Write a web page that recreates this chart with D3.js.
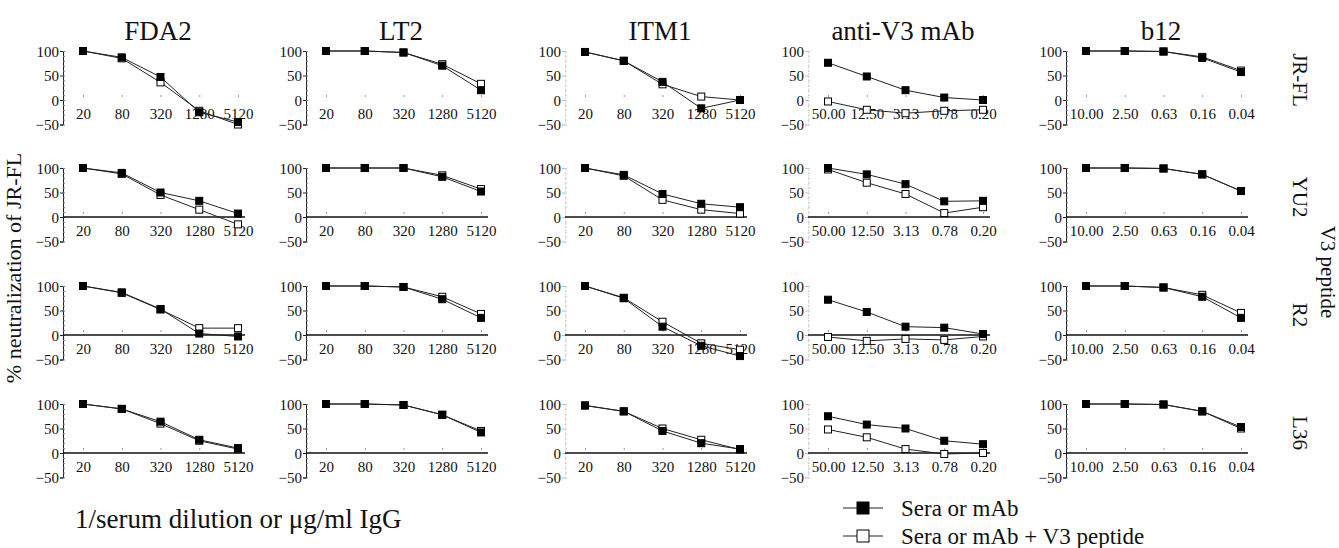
<!DOCTYPE html>
<head>
  <meta charset="utf-8">
  <style>
  body {
    margin: 0;
    background: #fff;
  }

  svg {
    display: block;
  }

  .line {
    fill: none;
    stroke: #222;
    stroke-width: 1px;
  }
</style>
</head>
<svg class="chart" width="1339" height="548"></svg>

<script src="https://cdn.jsdelivr.net/npm/d3@7"></script>
<script>
// x categories
var dilutions = ["20", "80", "320", "1280", "5120"];
var mabConc = ["50.00", "12.50", "3.13", "0.78", "0.20"];
var b12Conc = ["10.00", "2.50", "0.63", "0.16", "0.04"];

var panelTitles = ["FDA2", "LT2", "ITM1", "anti-V3 mAb", "b12"];
var viruses = ["JR-FL", "YU2", "R2", "L36"];
var yTicks = [100, 50, 0, -50];

// % neutralization, one row per virus (JR-FL, YU2, R2, L36)
var fda2Sera = [[100, 87, 47, -25, -45], [100, 90, 50, 33, 7], [100, 87, 53, 3, -3], [100, 90, 64, 27, 10]];
var fda2Pep = [[100, 85, 36, -22, -50], [100, 88, 45, 15, -15], [100, 86, 52, 14, 14], [100, 90, 60, 25, 8]];
var lt2Sera = [[100, 100, 97, 70, 20], [100, 100, 100, 82, 52], [100, 100, 98, 73, 35], [100, 100, 98, 78, 42]];
var lt2Pep = [[100, 100, 97, 73, 33], [100, 100, 100, 85, 57], [100, 100, 98, 78, 43], [100, 100, 98, 78, 45]];
var itm1Sera = [[98, 80, 37, -17, 0], [100, 86, 47, 27, 20], [100, 75, 17, -22, -43], [97, 85, 45, 20, 8]];
var itm1Pep = [[98, 80, 32, 7, 0], [100, 84, 35, 15, 7], [100, 76, 27, -17, -30], [97, 85, 50, 27, 7]];
var v3Sera = [[76, 48, 20, 5, 0], [100, 87, 67, 32, 33], [72, 47, 17, 15, 2], [75, 58, 50, 25, 18]];
var v3Pep = [[-3, -20, -27, -22, -20], [97, 70, 47, 8, 20], [-4, -12, -8, -10, -3], [48, 32, 8, -2, 0]];
var b12Sera = [[100, 100, 99, 86, 57], [100, 100, 99, 87, 53], [100, 100, 97, 78, 35], [100, 100, 99, 85, 53]];
var b12Pep = [[100, 100, 99, 88, 60], [100, 100, 99, 87, 53], [100, 100, 97, 82, 45], [100, 100, 99, 85, 50]];

var columns = [
  { cats: dilutions, sera: fda2Sera, pep: fda2Pep },
  { cats: dilutions, sera: lt2Sera, pep: lt2Pep },
  { cats: dilutions, sera: itm1Sera, pep: itm1Pep },
  { cats: mabConc, sera: v3Sera, pep: v3Pep },
  { cats: b12Conc, sera: b12Sera, pep: b12Pep }
];

var serif = "Liberation Serif, Times New Roman, serif";
var svg = d3.select("svg");

var axisX = [63, 306, 565, 808, 1066],
  zeroY = [100, 217, 335, 453],
  pxPerUnit = 0.49,
  sq = 7;

var line = d3.line()
  .x(function(d) { return d.x; })
  .y(function(d) { return d.y; });

function label(sel, size) {
  return sel.style("font-family", serif).style("font-size", size + "px").attr("fill", "#111");
}

columns.forEach(function(col, ci) {
  var ax = axisX[ci];
  var x = d3.scalePoint().domain(col.cats).range([ax + 20, ax + 175]);

  svg.append("text")
    .attr("x", ax + 95)
    .attr("y", 40)
    .attr("text-anchor", "middle")
    .call(label, 27)
    .text(panelTitles[ci]);

  viruses.forEach(function(v, ri) {
    var z = zeroY[ri];
    var y = d3.scaleLinear().domain([-50, 100]).range([z + 50 * pxPerUnit, z - 100 * pxPerUnit]);
    var g = svg.append("g");

    // y axis with minor ticks
    var faint = ci === 2 || ci === 3;
    var ya = g.append("g")
      .attr("transform", "translate(" + ax + ",0)")
      .call(d3.axisLeft(y).tickValues(yTicks).tickSize(3).tickPadding(1).tickFormat(d3.format("d")));
    ya.select(".domain")
      .attr("stroke", faint ? "#bbb" : "#222")
      .attr("stroke-dasharray", faint ? "1,2" : null);
    ya.selectAll(".tick line").attr("stroke", faint ? "#bbb" : "#222");
    ya.selectAll(".tick text").attr("dy", "0.35em").call(label, 15);
    g.append("g")
      .attr("transform", "translate(" + ax + ",0)")
      .call(d3.axisRight(y).ticks(15).tickSize(2).tickFormat(""))
      .call(function(s) {
        s.select(".domain").remove();
        s.selectAll(".tick line").attr("stroke", faint ? "#ccc" : "#777");
      });

    // x axis at zero
    var xa = g.append("g")
      .attr("transform", "translate(0," + y(0) + ")")
      .call(d3.axisBottom(x).tickSize(0).tickPadding(8));
    xa.selectAll(".tick text").call(label, 15);
    xa.select(".domain")
      .attr("d", "M" + ax + ",0H" + (ax + 182))
      .attr("stroke", ri === 0 ? "none" : "#111")
      .attr("stroke-width", 1.7);
    xa.selectAll(".tick").append("line")
      .attr("y1", -5).attr("y2", -3)
      .attr("stroke", "#999");

    [{ vals: col.pep[ri], fill: "#fff" }, { vals: col.sera[ri], fill: "#000" }].forEach(function(s) {
      var pts = s.vals.map(function(d, i) {
        return { x: x(col.cats[i]), y: y(d) };
      });
      g.append("path")
        .attr("class", "line")
        .attr("d", line(pts));
      g.selectAll(null)
        .data(pts)
        .enter()
        .append("rect")
        .attr("x", function(d) { return d.x - sq / 2; })
        .attr("y", function(d) { return d.y - sq / 2; })
        .attr("width", sq)
        .attr("height", sq)
        .attr("fill", s.fill)
        .attr("stroke", "#000")
        .attr("stroke-width", 1);
    });

    if (ci === 4) {
      svg.append("text")
        .attr("transform", "translate(1293," + (z - 20) + ") rotate(90)")
        .attr("text-anchor", "middle")
        .call(label, 21)
        .text(v);
    }
  });
});

svg.append("text")
  .attr("transform", "translate(21,268) rotate(-90)")
  .attr("text-anchor", "middle")
  .call(label, 22)
  .text("% neutralization of JR-FL");

svg.append("text")
  .attr("transform", "translate(1321,272) rotate(90)")
  .attr("text-anchor", "middle")
  .call(label, 21)
  .text("V3 peptide");

svg.append("text")
  .attr("x", 75)
  .attr("y", 528)
  .call(label, 27)
  .text("1/serum dilution or \u03bcg/ml IgG");

// legend
var legend = [
  { label: "Sera or mAb", fill: "#000" },
  { label: "Sera or mAb + V3 peptide", fill: "#fff" }
];
var lg = svg.selectAll(".legend")
  .data(legend)
  .enter()
  .append("g")
  .attr("class", "legend")
  .attr("transform", function(d, i) { return "translate(843," + (508 + i * 28) + ")"; });
lg.append("line")
  .attr("x1", 0).attr("x2", 40)
  .attr("stroke", "#222");
lg.append("rect")
  .attr("x", 14).attr("y", -6)
  .attr("width", 12).attr("height", 12)
  .attr("fill", function(d) { return d.fill; })
  .attr("stroke", "#000");
lg.append("text")
  .attr("x", 58)
  .attr("y", 8)
  .call(label, 23)
  .text(function(d) { return d.label; });
</script>
